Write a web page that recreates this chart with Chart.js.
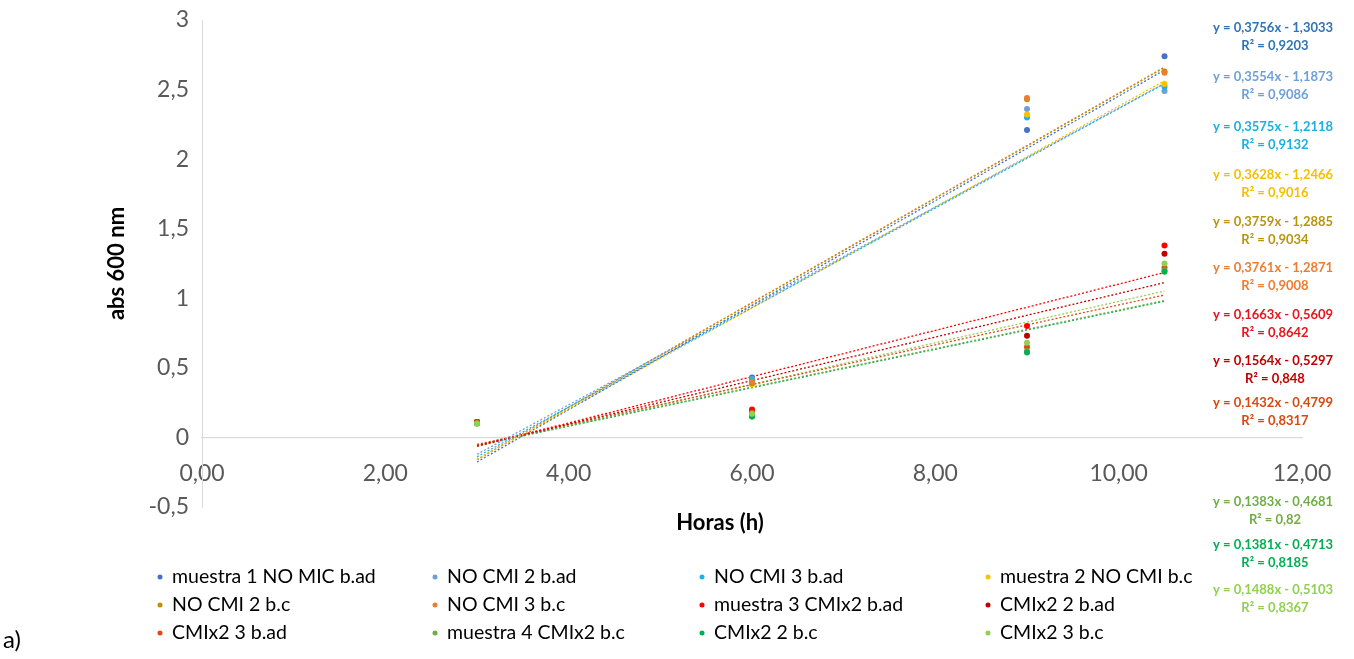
<!DOCTYPE html>
<html>
<head>
<meta charset="utf-8">
<script src="https://cdn.jsdelivr.net/npm/chart.js@4.4.0/dist/chart.umd.min.js"></script>
<style>
  html, body { margin: 0; padding: 0; background: #fff; }
  #wrap { position: relative; width: 1354px; height: 659px; }
</style>
</head>
<body>
<div id="wrap"><canvas id="grafico"></canvas></div>
<script>
// tiempos de muestreo (h)
const horas = [3, 6, 9, 10.5];

const nombres = [
  "muestra 1 NO MIC b.ad", "NO CMI 2 b.ad", "NO CMI 3 b.ad", "muestra 2 NO CMI b.c",
  "NO CMI 2 b.c", "NO CMI 3 b.c", "muestra 3 CMIx2 b.ad", "CMIx2 2 b.ad",
  "CMIx2 3 b.ad", "muestra 4 CMIx2 b.c", "CMIx2 2 b.c", "CMIx2 3 b.c"
];

// abs 600 nm en cada tiempo
const valores = [
  [0.11, 0.43, 2.21, 2.74],
  [0.11, 0.42, 2.36, 2.49],
  [0.11, 0.41, 2.30, 2.52],
  [0.11, 0.38, 2.32, 2.54],
  [0.11, 0.39, 2.43, 2.63],
  [0.11, 0.40, 2.44, 2.62],
  [0.11, 0.20, 0.80, 1.38],
  [0.11, 0.18, 0.73, 1.32],
  [0.11, 0.18, 0.65, 1.22],
  [0.10, 0.15, 0.62, 1.20],
  [0.10, 0.15, 0.61, 1.19],
  [0.10, 0.17, 0.68, 1.25]
];

// lineas de tendencia (tal como salen en el grafico)
const pendientes = [0.3756, 0.3554, 0.3575, 0.3628, 0.3759, 0.3761, 0.1663, 0.1564, 0.1432, 0.1383, 0.1381, 0.1488];
const ordenadas = [-1.3033, -1.1873, -1.2118, -1.2466, -1.2885, -1.2871, -0.5609, -0.5297, -0.4799, -0.4681, -0.4713, -0.5103];
const r2 = ["0,9203", "0,9086", "0,9132", "0,9016", "0,9034", "0,9008", "0,8642", "0,848", "0,8317", "0,82", "0,8185", "0,8367"];

const xTicks = [0, 2, 4, 6, 8, 10, 12];

const colores = [
  "#4472c4", "#6f9fd8", "#1fb3e3", "#ffc000", "#bf9000", "#ed7d31",
  "#ff0000", "#c00000", "#e0481a", "#70ad47", "#00b050", "#92d050"
];
const coloresEtiqueta = [
  "#2e75b6", "#6f9fd8", "#1cb0e0", "#f5c000", "#b8960c", "#ed7d31",
  "#e8141c", "#c00000", "#d9480f", "#70ad47", "#00b050", "#92d050"
];
// posicion vertical de cada ecuacion (px)
const etiquetaY = [28, 77, 127, 175, 222, 268, 315, 361, 403, 502, 545, 590];
const columnasLeyenda = [160, 435, 702, 988];

const coma = (v, d) => v.toFixed(d).replace(".", ",");

const puntos = valores.map((serie, i) => ({
  type: "scatter",
  label: nombres[i],
  data: serie.map((y, j) => ({ x: horas[j], y: y })),
  backgroundColor: colores[i],
  borderWidth: 0,
  pointRadius: 3,
  order: 12 - i
}));

const tendencias = pendientes.map((a, i) => ({
  type: "line",
  label: "tend " + nombres[i],
  data: [horas[0], horas[horas.length - 1]].map(x => ({ x: x, y: a * x + ordenadas[i] })),
  borderColor: colores[i],
  borderWidth: 1.3,
  borderDash: [2, 2],
  pointRadius: 0,
  fill: false,
  order: 30 + i
}));

const textos = {
  id: "textos",
  afterDraw(chart) {
    const { ctx, chartArea } = chart;
    ctx.save();
    ctx.fillStyle = "#000";
    ctx.textAlign = "center";
    ctx.textBaseline = "middle";
    ctx.font = "bold 22px Lato";
    ctx.fillText("Horas (h)", 720, 523);
    ctx.translate(117, (chartArea.top + chartArea.bottom) / 2);
    ctx.rotate(-Math.PI / 2);
    ctx.fillText("abs 600 nm", 0, 0);
    ctx.restore();

    // ecuaciones
    ctx.save();
    ctx.textAlign = "center";
    ctx.textBaseline = "middle";
    ctx.font = "bold 13px Lato";
    pendientes.forEach((a, i) => {
      ctx.fillStyle = coloresEtiqueta[i];
      const b = ordenadas[i];
      ctx.fillText("y = " + coma(a, 4) + "x - " + coma(-b, 4), 1273, etiquetaY[i]);
      ctx.fillText("R² = " + r2[i], 1275, etiquetaY[i] + 18);
    });
    ctx.restore();

    // leyenda 4 columnas
    ctx.save();
    ctx.font = "19.5px Lato";
    ctx.textBaseline = "middle";
    ctx.textAlign = "left";
    nombres.forEach((n, i) => {
      const x = columnasLeyenda[i % 4], y = 577 + Math.floor(i / 4) * 28;
      ctx.fillStyle = colores[i];
      ctx.beginPath();
      ctx.arc(x, y, 2.5, 0, Math.PI * 2);
      ctx.fill();
      ctx.fillStyle = "#000";
      ctx.fillText(n, x + 12, y);
    });
    ctx.font = "24px Lato";
    ctx.fillText("a)", 3, 640);
    ctx.restore();
  }
};

new Chart(document.getElementById("grafico"), {
  data: { datasets: puntos.concat(tendencias) },
  options: {
    responsive: true,
    maintainAspectRatio: false,
    animation: false,
    layout: { padding: { top: 0, right: 52, bottom: 152, left: 0 } },
    plugins: { legend: { display: false }, tooltip: { enabled: false } },
    scales: {
      x: {
        type: "linear",
        position: { y: 0 },
        min: 0,
        max: 12,
        afterBuildTicks: s => { s.ticks = xTicks.map(v => ({ value: v })); },
        afterFit: s => { s.height = 0; },
        grid: { display: false, drawTicks: false },
        border: { color: "#d9d9d9", width: 1.3 },
        ticks: {
          padding: 22,
          color: "#595959",
          font: { family: "Lato", size: 23 },
          maxRotation: 0,
          callback: v => coma(v, 2)
        }
      },
      y: {
        min: -0.5,
        max: 3,
        afterFit: s => { s.width = 202; s.paddingTop = 20; s.paddingBottom = 0; },
        grid: { display: false, drawTicks: false },
        border: { color: "#d9d9d9", width: 1 },
        ticks: {
          stepSize: 0.5,
          padding: 13,
          color: "#595959",
          font: { family: "Lato", size: 23 },
          callback: v => String(v).replace(".", ",")
        }
      }
    }
  },
  plugins: [textos]
});
</script>
</body>
</html>
